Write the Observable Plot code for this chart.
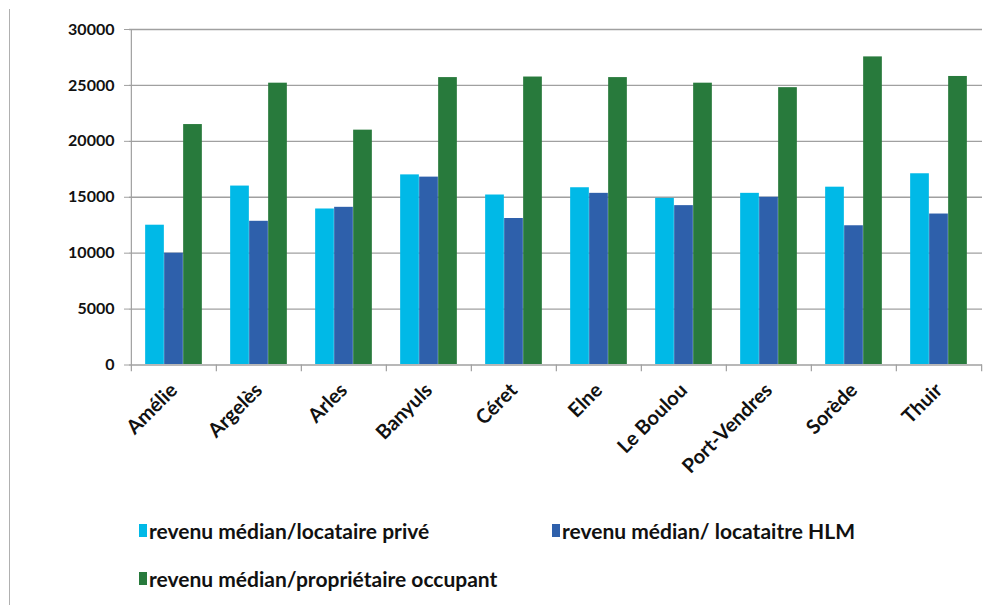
<!DOCTYPE html>
<html>
<head>
<meta charset="utf-8">
<script src="https://cdn.jsdelivr.net/npm/d3@7"></script>
<script src="https://cdn.jsdelivr.net/npm/@observablehq/plot@0.6"></script>
<style>
  html, body { margin: 0; padding: 0; background: #fff; }
  #wrap { position: relative; width: 1004px; height: 605px; overflow: hidden; font-family: Lato, "Open Sans", sans-serif; }
  #border { position: absolute; left: 9px; top: 9px; width: 1px; height: 600px; background: #b0b0b0; }
  #chart { position: absolute; left: 0; top: 0; }
  #chart svg g[aria-label^="y-axis"] line, #chart svg g[aria-label^="y-axis"] path { stroke: #a0a0a0; }
  #chart svg g[aria-label^="y-axis"] text { font-size: 16px !important; font-weight: bold; }
  #chart svg g[aria-label^="x-axis"] text { font-size: 20px !important; font-weight: bold; }
  .leg { position: absolute; font-weight: bold; font-size: 21px; color: #111; display: flex; align-items: center; white-space: nowrap; }
  .sw { width: 8px; height: 13px; margin-right: 2px; display: inline-block; }
</style>
</head>
<body>
<div id="wrap">
  <div id="border"></div>
  <div id="chart"></div>
  <div id="legend"></div>
</div>
<script>
const communes = ["Amélie", "Argelès", "Arles", "Banyuls", "Céret", "Elne", "Le Boulou", "Port-Vendres", "Sorède", "Thuir"];
const seriesNames = ["revenu médian/locataire privé", "revenu médian/ locataitre HLM", "revenu médian/propriétaire occupant"];
const locatairePrive = [12500, 16000, 13950, 17000, 15200, 15850, 14900, 15350, 15900, 17100];
const locataireHLM = [10000, 12850, 14100, 16800, 13100, 15350, 14250, 15000, 12450, 13500];
const proprietaire = [21500, 25200, 21000, 25700, 25750, 25700, 25200, 24800, 27550, 25800];
const colors = ["#00b9e7", "#2e60ab", "#287a3c"];
const yTicks = [0, 5000, 10000, 15000, 20000, 25000, 30000];

const W = 1004, H = 505;
const mL = 129, mR = 22, mT = 29, mB = 140.5;
const step = (W - mL - mR) / communes.length;
const barW = 19;
const groupOff = (step - 3 * barW) / 2;

const seriesValues = [locatairePrive, locataireHLM, proprietaire];
const tables = seriesValues.map(vals => communes.map((c, i) => ({commune: c, value: vals[i]})));

const barMarks = tables.map((t, k) => Plot.barY(t, {
  x: "commune", y: "value", fill: colors[k],
  insetLeft: groupOff + k * barW,
  insetRight: step - groupOff - (k + 1) * barW
}));

const boundaries = communes.map((c, i) => ({commune: c, lo: i === 0 ? 30000 : 0}));

const plot = Plot.plot({
  width: W, height: H,
  marginLeft: mL, marginRight: mR, marginTop: mT, marginBottom: mB,
  style: {fontFamily: "Lato, 'Open Sans', sans-serif", fontSize: "16px", fontWeight: "bold", color: "#111", background: "transparent"},
  x: {domain: communes, padding: 0, label: null, tickSize: 0, tickRotate: -45, tickPadding: 22},
  y: {domain: [0, 30000], ticks: yTicks, tickFormat: d => String(d), label: null, tickSize: 5, tickPadding: 10},
  marks: [
    Plot.ruleY(yTicks, {stroke: "#a0a0a0", strokeWidth: 1.3}),
    ...barMarks,
    Plot.ruleY([0], {stroke: "#b8b8b8", strokeWidth: 2}),
    Plot.ruleX(boundaries, {x: "commune", y1: -600, y2: "lo", dx: -step / 2, stroke: "#a0a0a0", strokeWidth: 1.2}),
    Plot.ruleX([communes[communes.length - 1]], {x: d => d, y1: -600, y2: 0, dx: step / 2, stroke: "#a0a0a0", strokeWidth: 1.2})
  ]
});
document.getElementById("chart").appendChild(plot);

const legendPos = [[139, 518], [552, 518], [139, 566]];
const leg = document.getElementById("legend");
seriesNames.forEach((name, k) => {
  const d = document.createElement("div");
  d.className = "leg";
  d.style.left = legendPos[k][0] + "px";
  d.style.top = legendPos[k][1] + "px";
  const s = document.createElement("span");
  s.className = "sw";
  s.style.background = colors[k];
  d.appendChild(s);
  d.appendChild(document.createTextNode(name));
  leg.appendChild(d);
});
</script>
</body>
</html>
